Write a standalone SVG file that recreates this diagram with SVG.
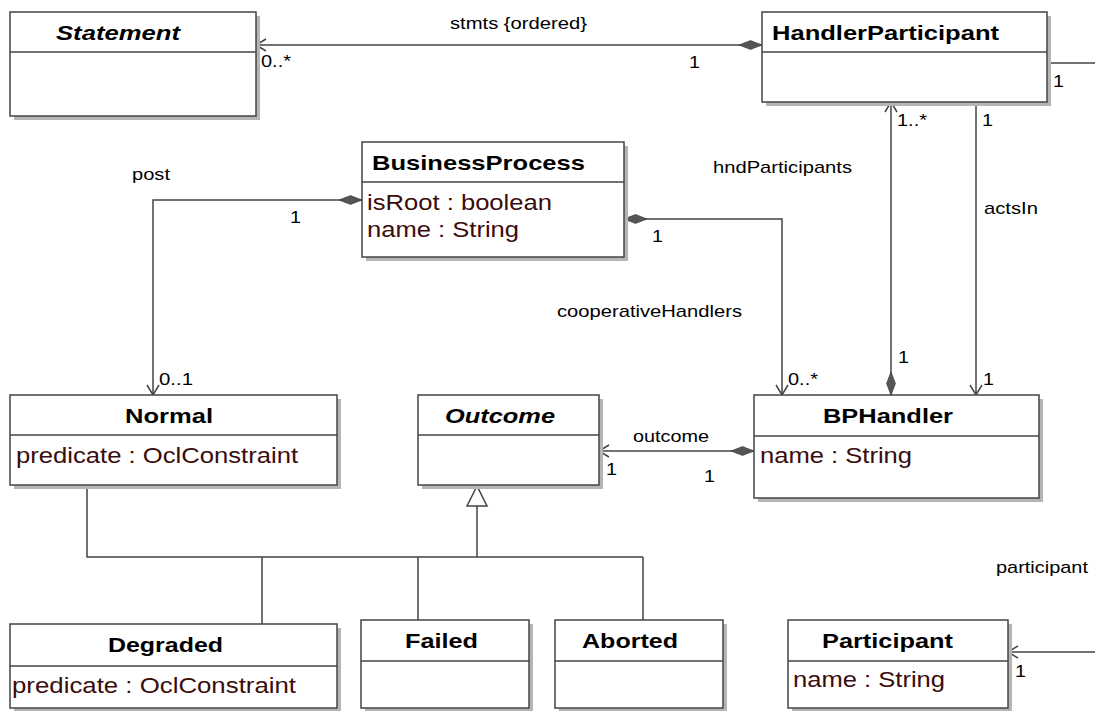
<svg xmlns="http://www.w3.org/2000/svg" width="1095" height="711" viewBox="0 0 1095 711">
  <style>
    .shadow { fill: #b5b5b5; }
    .box { fill: #fff; stroke: #444; stroke-width: 1.5; }
    .div { stroke: #444; stroke-width: 1.5; }
    .title { font-family: "Liberation Sans", Arial, sans-serif; font-size: 21px; font-weight: bold; fill: #000; }
    .abstract { font-style: italic; }
    .attr { font-family: "Liberation Sans", Arial, sans-serif; font-size: 22px; fill: #3a0c0c; }
    .lbl { font-family: "Liberation Sans", Arial, sans-serif; font-size: 17px; fill: #000; }
    .conn { fill: none; stroke: #444; stroke-width: 1.5; }
  </style>
  <defs>
    <marker id="open" viewBox="0 0 12 14" refX="11" refY="7" markerWidth="12" markerHeight="14" markerUnits="userSpaceOnUse" orient="auto">
      <path d="M1,1 L11,7 L1,13" fill="none" stroke="#444" stroke-width="1.5"/>
    </marker>
    <marker id="diamond" viewBox="0 0 24 10" refX="0" refY="5" markerWidth="24" markerHeight="10" markerUnits="userSpaceOnUse" orient="auto">
      <path d="M0,5 L11.5,0.6 L23,5 L11.5,9.4 Z" fill="#555" stroke="#444" stroke-width="0.8"/>
    </marker>
  </defs>

  <rect width="1095" height="711" fill="#fff"/>

  <!-- associations and generalization -->
  <g id="connectors">
    <path class="conn" d="M762,45 L256,45" marker-start="url(#diamond)" marker-end="url(#open)"/>
    <path class="conn" d="M1047,63 L1095,63"/>
    <path class="conn" d="M1095,652 L1008,652" marker-end="url(#open)"/>
    <path class="conn" d="M362,200 L153,200 L153,395" marker-start="url(#diamond)" marker-end="url(#open)"/>
    <path class="conn" d="M624,219 L782,219 L782,395" marker-start="url(#diamond)" marker-end="url(#open)"/>
    <path class="conn" d="M891,395 L891,102" marker-start="url(#diamond)" marker-end="url(#open)"/>
    <path class="conn" d="M976,102 L976,395" marker-end="url(#open)"/>
    <path class="conn" d="M754,451 L599,451" marker-start="url(#diamond)" marker-end="url(#open)"/>

    <path class="conn" d="M477,506 L477,557 M87,485 L87,557 L643,557 M262,557 L262,624 M418,557 L418,620 M643,557 L643,620"/>
    <polygon points="477,486 467,506 487,506" fill="#fff" stroke="#444" stroke-width="1.5"/>

    <text class="lbl" x="450" y="29" textLength="137" lengthAdjust="spacingAndGlyphs">stmts {ordered}</text>
    <text class="lbl" x="261" y="67" textLength="30" lengthAdjust="spacingAndGlyphs">0..*</text>
    <text class="lbl" x="689" y="68" textLength="11" lengthAdjust="spacingAndGlyphs">1</text>
    <text class="lbl" x="1053" y="87" textLength="11" lengthAdjust="spacingAndGlyphs">1</text>
    <text class="lbl" x="897" y="126" textLength="30" lengthAdjust="spacingAndGlyphs">1..*</text>
    <text class="lbl" x="982" y="126" textLength="11" lengthAdjust="spacingAndGlyphs">1</text>
    <text class="lbl" x="132" y="180" textLength="38" lengthAdjust="spacingAndGlyphs">post</text>
    <text class="lbl" x="290" y="223" textLength="11" lengthAdjust="spacingAndGlyphs">1</text>
    <text class="lbl" x="159" y="385" textLength="34" lengthAdjust="spacingAndGlyphs">0..1</text>
    <text class="lbl" x="713" y="173" textLength="139" lengthAdjust="spacingAndGlyphs">hndParticipants</text>
    <text class="lbl" x="984" y="214" textLength="54" lengthAdjust="spacingAndGlyphs">actsIn</text>
    <text class="lbl" x="652" y="242" textLength="11" lengthAdjust="spacingAndGlyphs">1</text>
    <text class="lbl" x="557" y="317" textLength="185" lengthAdjust="spacingAndGlyphs">cooperativeHandlers</text>
    <text class="lbl" x="788" y="385" textLength="30" lengthAdjust="spacingAndGlyphs">0..*</text>
    <text class="lbl" x="898" y="363" textLength="11" lengthAdjust="spacingAndGlyphs">1</text>
    <text class="lbl" x="983" y="385" textLength="11" lengthAdjust="spacingAndGlyphs">1</text>
    <text class="lbl" x="633" y="442" textLength="76" lengthAdjust="spacingAndGlyphs">outcome</text>
    <text class="lbl" x="606" y="475" textLength="11" lengthAdjust="spacingAndGlyphs">1</text>
    <text class="lbl" x="704" y="482" textLength="11" lengthAdjust="spacingAndGlyphs">1</text>
    <text class="lbl" x="996" y="573" textLength="92" lengthAdjust="spacingAndGlyphs">participant</text>
    <text class="lbl" x="1015" y="677" textLength="11" lengthAdjust="spacingAndGlyphs">1</text>
  </g>

  <g id="Statement">
    <rect class="shadow" x="14" y="16" width="246" height="104"/>
    <rect class="box" x="10" y="12" width="246" height="104"/>
    <line class="div" x1="10" y1="52" x2="256" y2="52"/>
    <text class="title abstract" x="56" y="40" textLength="124" lengthAdjust="spacingAndGlyphs">Statement</text>
  </g>

  <g id="HandlerParticipant">
    <rect class="shadow" x="766" y="16" width="285" height="90"/>
    <rect class="box" x="762" y="12" width="285" height="90"/>
    <line class="div" x1="762" y1="52" x2="1047" y2="52"/>
    <text class="title" x="772" y="40" textLength="227" lengthAdjust="spacingAndGlyphs">HandlerParticipant</text>
  </g>

  <g id="BusinessProcess">
    <rect class="shadow" x="366" y="146" width="262" height="115"/>
    <rect class="box" x="362" y="142" width="262" height="115"/>
    <line class="div" x1="362" y1="182" x2="624" y2="182"/>
    <text class="title" x="372" y="170" textLength="213" lengthAdjust="spacingAndGlyphs">BusinessProcess</text>
    <text class="attr" x="367" y="210" textLength="185" lengthAdjust="spacingAndGlyphs">isRoot : boolean</text>
    <text class="attr" x="367" y="237" textLength="152" lengthAdjust="spacingAndGlyphs">name : String</text>
  </g>

  <g id="Normal">
    <rect class="shadow" x="14" y="399" width="327" height="90"/>
    <rect class="box" x="10" y="395" width="327" height="90"/>
    <line class="div" x1="10" y1="435" x2="337" y2="435"/>
    <text class="title" x="125" y="423" textLength="88" lengthAdjust="spacingAndGlyphs">Normal</text>
    <text class="attr" x="16" y="463" textLength="282" lengthAdjust="spacingAndGlyphs">predicate : OclConstraint</text>
  </g>

  <g id="Outcome">
    <rect class="shadow" x="422" y="399" width="181" height="90"/>
    <rect class="box" x="418" y="395" width="181" height="90"/>
    <line class="div" x1="418" y1="435" x2="599" y2="435"/>
    <text class="title abstract" x="445" y="423" textLength="110" lengthAdjust="spacingAndGlyphs">Outcome</text>
  </g>

  <g id="BPHandler">
    <rect class="shadow" x="758" y="399" width="285" height="103"/>
    <rect class="box" x="754" y="395" width="285" height="103"/>
    <line class="div" x1="754" y1="436" x2="1039" y2="436"/>
    <text class="title" x="823" y="423" textLength="130" lengthAdjust="spacingAndGlyphs">BPHandler</text>
    <text class="attr" x="760" y="463" textLength="152" lengthAdjust="spacingAndGlyphs">name : String</text>
  </g>

  <g id="Degraded">
    <rect class="shadow" x="14" y="628" width="327" height="84"/>
    <rect class="box" x="10" y="624" width="327" height="84"/>
    <line class="div" x1="10" y1="666" x2="337" y2="666"/>
    <text class="title" x="108" y="652" textLength="115" lengthAdjust="spacingAndGlyphs">Degraded</text>
    <text class="attr" x="12" y="693" textLength="284" lengthAdjust="spacingAndGlyphs">predicate : OclConstraint</text>
  </g>

  <g id="Failed">
    <rect class="shadow" x="365" y="624" width="168" height="88"/>
    <rect class="box" x="361" y="620" width="168" height="88"/>
    <line class="div" x1="361" y1="661" x2="529" y2="661"/>
    <text class="title" x="405" y="648" textLength="73" lengthAdjust="spacingAndGlyphs">Failed</text>
  </g>

  <g id="Aborted">
    <rect class="shadow" x="559" y="624" width="168" height="88"/>
    <rect class="box" x="555" y="620" width="168" height="88"/>
    <line class="div" x1="555" y1="661" x2="723" y2="661"/>
    <text class="title" x="582" y="648" textLength="96" lengthAdjust="spacingAndGlyphs">Aborted</text>
  </g>

  <g id="Participant">
    <rect class="shadow" x="792" y="624" width="220" height="88"/>
    <rect class="box" x="788" y="620" width="220" height="88"/>
    <line class="div" x1="788" y1="661" x2="1008" y2="661"/>
    <text class="title" x="822" y="648" textLength="131" lengthAdjust="spacingAndGlyphs">Participant</text>
    <text class="attr" x="793" y="687" textLength="152" lengthAdjust="spacingAndGlyphs">name : String</text>
  </g>
</svg>
